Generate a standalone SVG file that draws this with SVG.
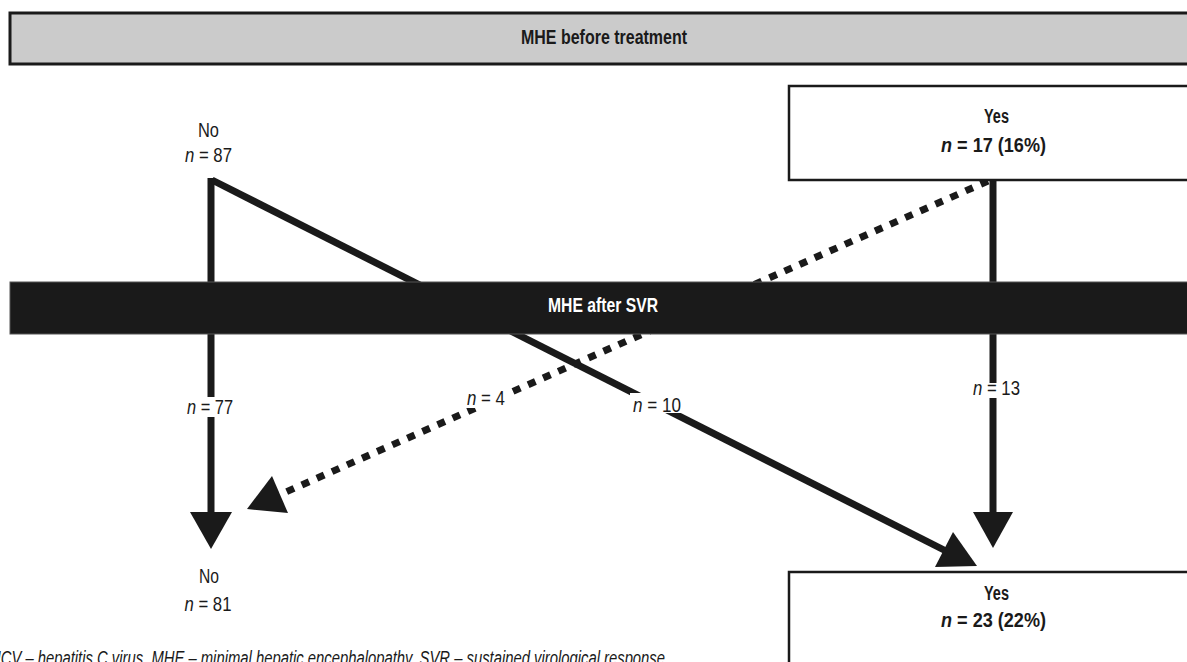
<svg xmlns="http://www.w3.org/2000/svg" width="1187" height="662" viewBox="0 0 1187 662">
<style>
.t{font-family:"Liberation Sans",Arial,sans-serif;font-size:20px;fill:#1a1a1a}
.b{font-weight:bold}
.i{font-style:italic}
.w{fill:#ffffff}
.ln{stroke:#1a1a1a;stroke-width:7;fill:none}
.dot{stroke:#1a1a1a;stroke-width:7;fill:none;stroke-dasharray:8 8.5}
.ah{fill:#1a1a1a}
.box{fill:#ffffff;stroke:#1a1a1a;stroke-width:2.5}
.bg{fill:#ffffff}
</style>
<rect width="1187" height="662" fill="#ffffff"/>
<g id="connectors">
  <line class="ln" x1="211" y1="178" x2="211" y2="514"/>
  <polygon class="ah" points="190,512 232,512 211,549"/>
  <line class="ln" x1="212" y1="180" x2="946" y2="551"/>
  <polygon class="ah" points="953,532 935,567 977,566"/>
  <line class="ln" x1="993" y1="180" x2="993" y2="514"/>
  <polygon class="ah" points="973,512 1013,512 993,548"/>
  <line class="dot" x1="988" y1="181" x2="278" y2="495.5"/>
  <polygon class="ah" points="247,509 272,476 288,513"/>
  <rect class="bg" x="185" y="397" width="50" height="20"/>
  <rect class="bg" x="465" y="389" width="47" height="19"/>
  <rect class="bg" x="630" y="393" width="54" height="20"/>
  <rect class="bg" x="971" y="383" width="50" height="15"/>
  <text class="t" x="187" y="414" textLength="46" lengthAdjust="spacingAndGlyphs"><tspan class="i">n</tspan> = 77</text>
  <text class="t" x="467" y="405" textLength="38" lengthAdjust="spacingAndGlyphs"><tspan class="i">n</tspan> = 4</text>
  <text class="t" x="633" y="412" textLength="48" lengthAdjust="spacingAndGlyphs"><tspan class="i">n</tspan> = 10</text>
  <text class="t" x="973" y="395" textLength="47" lengthAdjust="spacingAndGlyphs"><tspan class="i">n</tspan> = 13</text>
</g>
<g id="before">
  <rect x="10" y="13" width="1190" height="51" fill="#cbcbcb" stroke="#1a1a1a" stroke-width="3"/>
  <text class="t b" x="604" y="44" text-anchor="middle" font-size="21" textLength="166" lengthAdjust="spacingAndGlyphs">MHE before treatment</text>
</g>
<g id="after">
  <rect x="10" y="282" width="1190" height="52" fill="#1a1a1a" stroke="#555555" stroke-width="1"/>
  <text class="t b w" x="603" y="312" text-anchor="middle" font-size="21" textLength="110" lengthAdjust="spacingAndGlyphs">MHE after SVR</text>
</g>
<g id="no-before">
  <text class="t" x="208.5" y="137" text-anchor="middle" textLength="21" lengthAdjust="spacingAndGlyphs">No</text>
  <text class="t" x="208.5" y="162" text-anchor="middle" textLength="47" lengthAdjust="spacingAndGlyphs"><tspan class="i">n</tspan> = 87</text>
</g>
<g id="yes-before">
  <rect class="box" x="789" y="86" width="420" height="94"/>
  <text class="t b" x="996.5" y="123" text-anchor="middle" textLength="25" lengthAdjust="spacingAndGlyphs">Yes</text>
  <text class="t b" x="993.5" y="152" text-anchor="middle" textLength="105" lengthAdjust="spacingAndGlyphs"><tspan class="i">n</tspan> = 17 (16%)</text>
</g>
<g id="no-after">
  <text class="t" x="209" y="583" text-anchor="middle" textLength="20" lengthAdjust="spacingAndGlyphs">No</text>
  <text class="t" x="208" y="611" text-anchor="middle" textLength="47" lengthAdjust="spacingAndGlyphs"><tspan class="i">n</tspan> = 81</text>
</g>
<g id="yes-after">
  <rect class="box" x="789" y="572" width="420" height="120"/>
  <text class="t b" x="996.5" y="600" text-anchor="middle" textLength="25" lengthAdjust="spacingAndGlyphs">Yes</text>
  <text class="t b" x="993.5" y="627" text-anchor="middle" textLength="105" lengthAdjust="spacingAndGlyphs"><tspan class="i">n</tspan> = 23 (22%)</text>
</g>
<g id="footnote">
  <text class="t i" x="-10" y="665" font-size="15" textLength="675" lengthAdjust="spacingAndGlyphs">HCV – hepatitis C virus, MHE – minimal hepatic encephalopathy, SVR – sustained virological response</text>
</g>
</svg>
